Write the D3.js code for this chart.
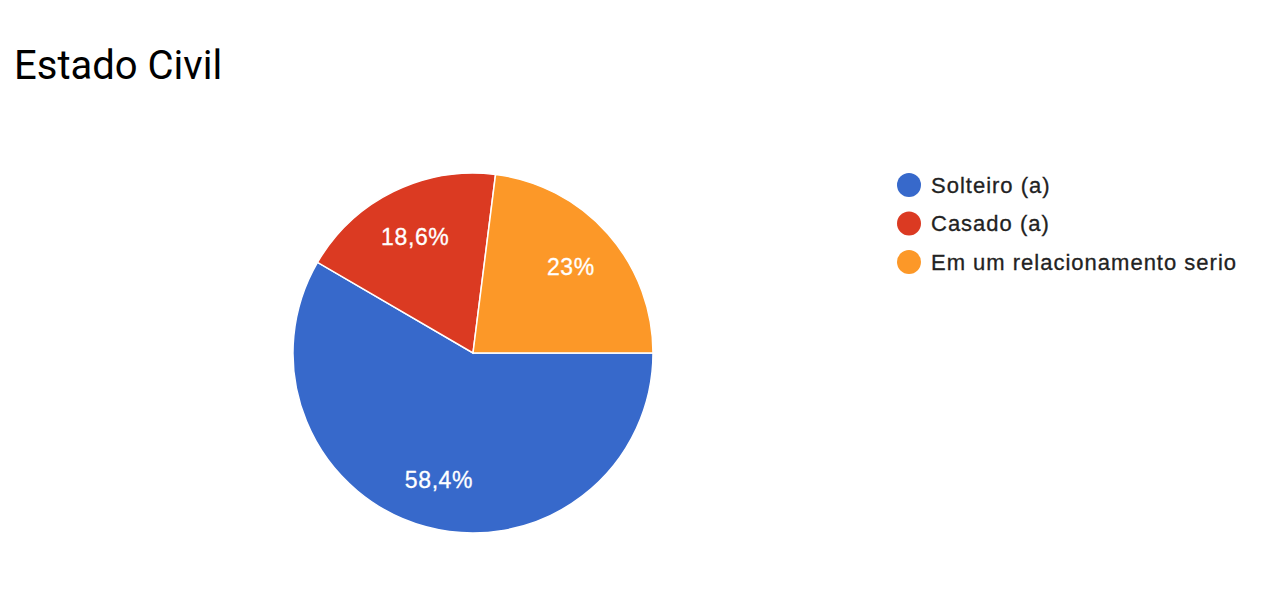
<!DOCTYPE html>
<html><head><meta charset="utf-8">
<script src="https://cdn.jsdelivr.net/npm/d3@7"></script>
<style>body{margin:0;background:#fff}</style>
</head><body>
<svg id="c" width="1278" height="591"></svg>
<script>
const categories = ["Solteiro (a)", "Casado (a)", "Em um relacionamento serio"];
const values = [58.4, 18.6, 23];
const labels = ["58,4%", "18,6%", "23%"];
const colors = ["#3769CB", "#DB3A22", "#FC9828"];

const svg = d3.select("#c");
svg.append("text").attr("x", 14).attr("y", 79)
  .attr("font-family", "Roboto").attr("font-size", 40).attr("fill", "#000")
  .text("Estado Civil");

const cx = 473, cy = 353, r = 180;
const pie = d3.pie().sort(null).startAngle(Math.PI / 2).endAngle(Math.PI / 2 + 2 * Math.PI);
const arcs = pie(values);
const arc = d3.arc().innerRadius(0).outerRadius(r);
const g = svg.append("g").attr("transform", `translate(${cx},${cy})`);
g.selectAll("path").data(arcs).join("path")
  .attr("d", arc).attr("fill", (d, i) => colors[i])
  .attr("stroke", "#fff").attr("stroke-width", 1.5);
const labelArc = d3.arc().innerRadius(r * 0.725).outerRadius(r * 0.725);
g.selectAll("text").data(arcs).join("text")
  .attr("transform", d => `translate(${labelArc.centroid(d)})`)
  .attr("text-anchor", "middle").attr("dy", "0.38em")
  .attr("font-family", "'Liberation Sans', Arial").attr("font-size", 23).attr("letter-spacing", 0.6)
  .attr("fill", "#fff").attr("stroke", "#fff").attr("stroke-width", 0.3)
  .text((d, i) => labels[i]);

const leg = svg.append("g");
categories.forEach((c, i) => {
  const y = 185 + i * 38.5;
  leg.append("circle").attr("cx", 909).attr("cy", y).attr("r", 12).attr("fill", colors[i]);
  leg.append("text").attr("x", 931).attr("y", y).attr("dy", "0.36em")
    .attr("font-family", "'Liberation Sans', Arial").attr("font-size", 22).attr("letter-spacing", 1.0)
    .attr("fill", "#222").attr("stroke", "#222").attr("stroke-width", 0.3)
    .text(c);
});
</script>
</body></html>
